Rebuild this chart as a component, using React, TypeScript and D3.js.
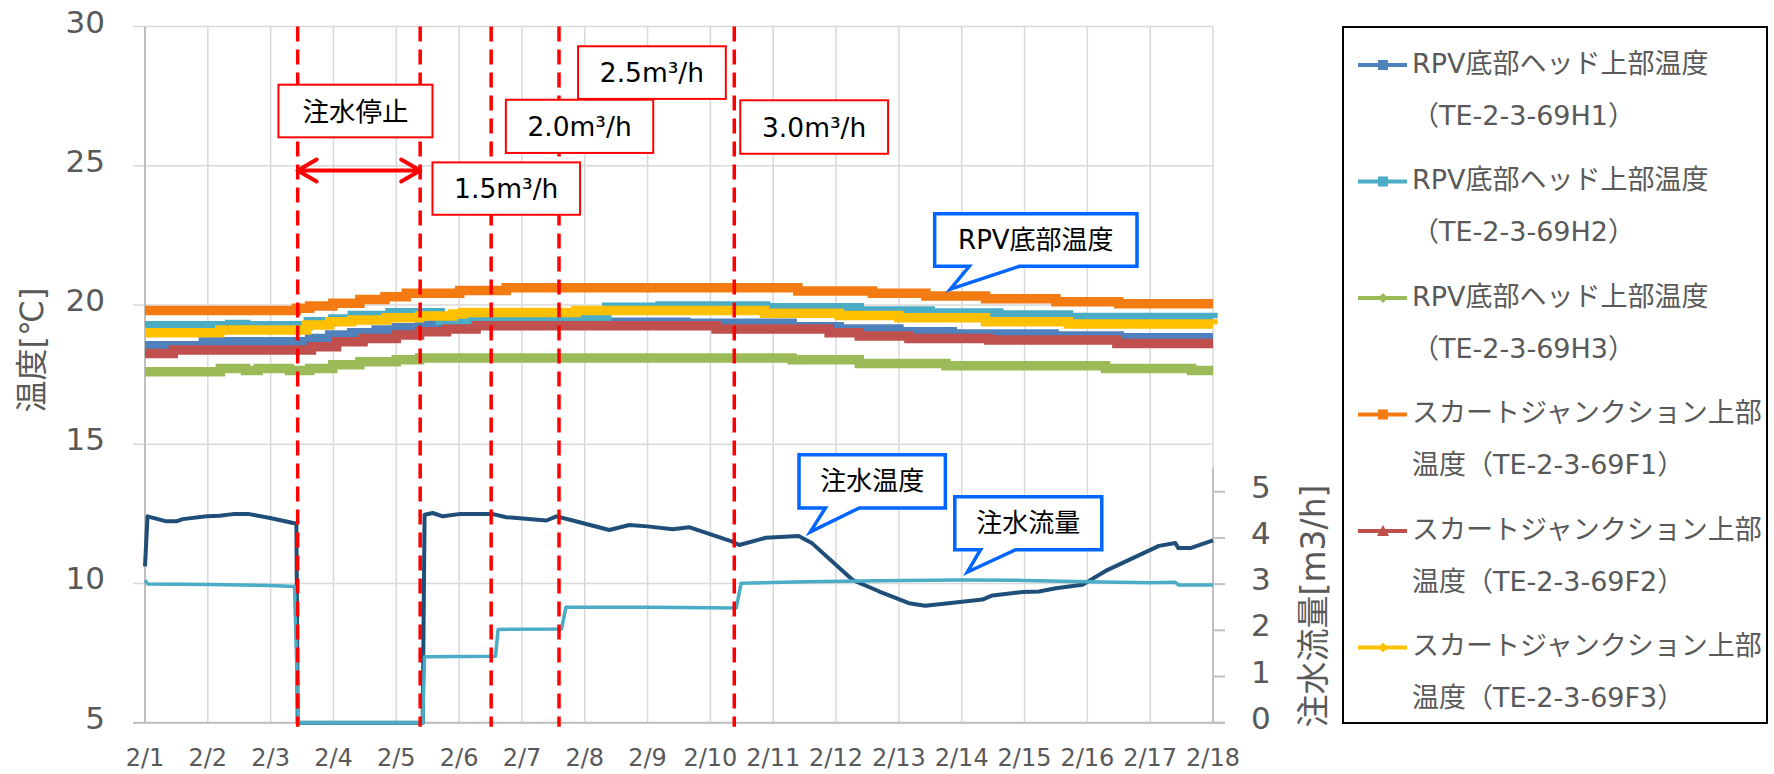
import * as d3 from 'd3'

type P = [number, number]

// x axis: days from 2/1 00:00
const dayLabels = ['2/1', '2/2', '2/3', '2/4', '2/5', '2/6', '2/7', '2/8', '2/9', '2/10', '2/11', '2/12', '2/13', '2/14', '2/15', '2/16', '2/17', '2/18']
const tempTicks = [5, 10, 15, 20, 25, 30]
const flowTicks = [0, 1, 2, 3, 4, 5]

// temperature series, [day, °C] change points (stepped, 0.1°C resolution)
const h1: P[] = [[0, 18.54], [0.93, 18.68], [2.62, 18.8], [2.94, 18.92], [3.29, 19.0], [3.68, 19.1], [4.0, 19.18], [4.37, 19.26], [4.58, 19.32], [5.27, 19.38], [8.61, 19.34], [10.3, 19.22], [11.05, 19.14], [12.0, 19.04], [12.85, 18.96], [14.47, 18.89], [15.51, 18.82], [17, 18.82]]
const h2: P[] = [[0, 19.25], [1.35, 19.3], [1.6, 19.25], [2.6, 19.4], [2.99, 19.5], [3.3, 19.62], [3.9, 19.72], [4.7, 19.45], [6.6, 19.5], [7.35, 19.92], [8.2, 19.96], [9.88, 19.9], [11.37, 19.78], [12.5, 19.71], [13.59, 19.64], [14.7, 19.55], [17, 19.52]]
const h3: P[] = [[0, 17.6], [1.2, 17.72], [1.6, 17.65], [1.8, 17.72], [2.3, 17.65], [2.62, 17.72], [2.99, 17.85], [3.42, 17.96], [4.0, 18.03], [4.37, 18.1], [10.3, 18.03], [11.37, 17.9], [12.75, 17.82], [15.29, 17.72], [16.66, 17.65], [17, 17.65]]
const f1: P[] = [[0, 19.8], [2.41, 19.88], [2.62, 19.96], [2.99, 20.06], [3.42, 20.2], [3.82, 20.3], [4.16, 20.42], [5.01, 20.52], [5.75, 20.62], [10.39, 20.5], [11.58, 20.42], [12.43, 20.32], [13.38, 20.22], [14.5, 20.12], [15.5, 20.04], [17, 20.04]]
const f2: P[] = [[0, 18.26], [0.45, 18.38], [2.65, 18.5], [3.05, 18.68], [3.47, 18.8], [4.0, 18.92], [4.37, 19.04], [4.8, 19.14], [5.27, 19.25], [9.09, 19.14], [10.89, 19.0], [11.37, 18.89], [12.16, 18.8], [13.43, 18.74], [15.47, 18.62], [17, 18.62]]
const f3: P[] = [[0, 19.0], [1.19, 19.1], [2.57, 19.28], [2.94, 19.4], [3.29, 19.46], [3.84, 19.54], [4.37, 19.6], [4.9, 19.68], [5.06, 19.73], [6.86, 19.8], [9.86, 19.7], [11.05, 19.62], [12.0, 19.54], [13.38, 19.4], [14.7, 19.32], [17, 19.3]]

// injection water temperature [°C]
const injTemp: P[] = [[0, 10.61], [0.04, 12.41], [0.34, 12.23], [0.5, 12.23], [0.6, 12.31], [0.98, 12.41], [1.19, 12.43], [1.4, 12.49], [1.66, 12.49], [1.99, 12.35], [2.36, 12.17], [2.41, 12.15], [2.43, 5], [4.42, 5], [4.45, 12.47], [4.58, 12.53], [4.74, 12.41], [5.0, 12.49], [5.54, 12.49], [5.75, 12.38], [6.39, 12.26], [6.55, 12.41], [6.81, 12.26], [7.39, 11.92], [7.71, 12.1], [8.0, 12.05], [8.4, 11.95], [8.66, 12.02], [9.35, 11.5], [9.46, 11.38], [9.88, 11.64], [10.41, 11.7], [10.47, 11.62], [10.62, 11.44], [11.26, 10.13], [11.69, 9.71], [12.16, 9.29], [12.42, 9.2], [12.9, 9.32], [13.33, 9.42], [13.49, 9.57], [13.97, 9.69], [14.23, 9.71], [14.5, 9.83], [14.92, 9.95], [15.29, 10.45], [16.14, 11.35], [16.4, 11.45], [16.45, 11.27], [16.64, 11.27], [17, 11.55]]

// injection flow [m3/h]
const injFlow: P[] = [[0, 3.08], [0.05, 3.0], [1, 2.99], [2, 2.97], [2.38, 2.95], [2.44, 0], [4.42, 0], [4.45, 1.43], [5.58, 1.44], [5.62, 2.02], [6.63, 2.03], [6.7, 2.5], [8, 2.5], [9.41, 2.48], [9.49, 3.02], [10.5, 3.05], [12, 3.08], [13, 3.09], [14, 3.08], [15, 3.05], [16, 3.03], [16.4, 3.04], [16.45, 2.98], [17, 2.98]]

const eventDays = [2.43, 4.38, 5.51, 6.59, 9.38]

const legendLine1 = ['RPV底部ヘッド上部温度', 'RPV底部ヘッド上部温度', 'RPV底部ヘッド上部温度', 'スカートジャンクション上部', 'スカートジャンクション上部', 'スカートジャンクション上部']
const legendLine2 = ['（TE-2-3-69H1）', '（TE-2-3-69H2）', '（TE-2-3-69H3）', '温度（TE-2-3-69F1）', '温度（TE-2-3-69F2）', '温度（TE-2-3-69F3）']

// red note boxes: [day0, day1, tempTop, tempBottom]
const notes: { text: string; box: [number, number, number, number] }[] = [
  { text: '注水停止', box: [2.124, 4.576, 27.91, 26.02] },
  { text: '1.5m³/h', box: [4.576, 6.925, 25.12, 23.24] },
  { text: '2.0m³/h', box: [5.744, 8.09, 27.37, 25.46] },
  { text: '2.5m³/h', box: [6.893, 9.245, 29.29, 27.4] },
  { text: '3.0m³/h', box: [9.475, 11.828, 27.35, 25.43] },
]

// blue callouts: box [day0, day1, tempTop, tempBottom], tail base days, tip [day, temp]
const callouts: { text: string; box: [number, number, number, number]; base: [number, number]; tip: P }[] = [
  { text: 'RPV底部温度', box: [12.57, 15.79, 23.28, 21.39], base: [13.12, 13.92], tip: [12.82, 20.57] },
  { text: '注水温度', box: [10.41, 12.74, 14.62, 12.71], base: [10.83, 11.37], tip: [10.59, 11.85] },
  { text: '注水流量', box: [12.89, 15.23, 13.11, 11.21], base: [13.3, 13.86], tip: [13.09, 10.41] },
]

const series = [
  { data: h1, color: '#4F81BD', marker: 'square' },
  { data: h2, color: '#4BACC6', marker: 'square' },
  { data: h3, color: '#9BBB59', marker: 'diamond' },
  { data: f1, color: '#F47A12', marker: 'square' },
  { data: f2, color: '#C0504D', marker: 'triangle' },
  { data: f3, color: '#FFC000', marker: 'diamond' },
]

const numFont = "'DejaVu Sans', 'Noto Sans CJK JP', sans-serif"
const gray = '#595959'

export default function App() {
  const x = d3.scaleLinear().domain([0, 17]).range([145, 1213])
  const y = d3.scaleLinear().domain([5, 30]).range([722.7, 26.5])
  const y2 = d3.scaleLinear().domain([0, 5.5]).range([722.7, 468.6])

  const stepLine = d3.line<P>().x((d) => x(d[0])).y((d) => y(d[1])).curve(d3.curveStepAfter)
  const tempLine = d3.line<P>().x((d) => x(d[0])).y((d) => y(d[1]))
  const flowLine = d3.line<P>().x((d) => x(d[0])).y((d) => y2(d[1]))

  const [x0, x1] = x.range()
  const yTop = y(30)
  const yBot = y(5)

  const arrowY = y(24.83)
  const ax0 = x(eventDays[0])
  const ax1 = x(eventDays[1])

  const marker = (kind: string, cx: number, cy: number, color: string) => {
    if (kind === 'square') return <rect x={cx - 5} y={cy - 5} width={10} height={10} fill={color} />
    if (kind === 'triangle') return <path d={`M${cx},${cy - 6} L${cx + 6},${cy + 5} L${cx - 6},${cy + 5} Z`} fill={color} />
    return <path d={`M${cx},${cy - 5} L${cx + 5},${cy} L${cx},${cy + 5} L${cx - 5},${cy} Z`} fill={color} />
  }

  return (
    <svg width={1774} height={774} style={{ position: 'absolute', left: 0, top: 0, background: '#fff' }}>
      <rect width={1774} height={774} fill="#fff" />

      {/* grid */}
      {dayLabels.map((_, i) => (
        <line key={'vg' + i} x1={x(i)} x2={x(i)} y1={yTop} y2={yBot} stroke="#D9D9D9" strokeWidth={1.5} />
      ))}
      {tempTicks.map((t) => (
        <line key={'hg' + t} x1={x0 - 12} x2={x1} y1={y(t)} y2={y(t)} stroke="#D9D9D9" strokeWidth={1.5} />
      ))}
      {/* axes */}
      <line x1={x0} x2={x0} y1={yTop} y2={yBot} stroke="#BFBFBF" strokeWidth={2} />
      <line x1={x0 - 12} x2={x1 + 12} y1={yBot} y2={yBot} stroke="#BFBFBF" strokeWidth={2} />
      <line x1={x1} x2={x1} y1={y2(5.5)} y2={yBot} stroke="#BFBFBF" strokeWidth={2} />
      {flowTicks.map((t) => (
        <line key={'rt' + t} x1={x1} x2={x1 + 12} y1={y2(t)} y2={y2(t)} stroke="#BFBFBF" strokeWidth={2} />
      ))}

      {/* tick labels */}
      {tempTicks.map((t) => (
        <text key={'yl' + t} x={105} y={y(t) - 5} textAnchor="end" dominantBaseline="central" fontFamily={numFont} fontSize={31} fill={gray}>
          {t}
        </text>
      ))}
      {flowTicks.map((t) => (
        <text key={'y2l' + t} x={1251} y={y2(t) - 5} textAnchor="start" dominantBaseline="central" fontFamily={numFont} fontSize={31} fill={gray}>
          {t}
        </text>
      ))}
      {dayLabels.map((d, i) => (
        <text key={'xl' + i} x={x(i)} y={758} textAnchor="middle" dominantBaseline="central" fontFamily={numFont} fontSize={24} fill={gray}>
          {d}
        </text>
      ))}
      <text transform="translate(32,350) rotate(-90)" textAnchor="middle" dominantBaseline="central" fontFamily={numFont} fontSize={32} fill={gray}>
        温度[℃]
      </text>
      <text transform="translate(1313,606) rotate(-90)" textAnchor="middle" dominantBaseline="central" fontFamily={numFont} fontSize={33} fill={gray}>
        注水流量[m3/h]
      </text>

      {/* temperature series */}
      {series.map((s, i) => (
        <path key={'s' + i} d={stepLine(s.data) ?? ''} fill="none" stroke={s.color} strokeWidth={9.5} />
      ))}
      <path d={tempLine(injTemp) ?? ''} fill="none" stroke="#1F4E79" strokeWidth={4} strokeLinejoin="round" />
      <path d={flowLine(injFlow) ?? ''} fill="none" stroke="#4BACC6" strokeWidth={3.5} strokeLinejoin="round" />

      {/* event lines */}
      {eventDays.map((d, i) => (
        <line key={'ev' + i} x1={x(d)} x2={x(d)} y1={yTop} y2={yBot + 4} stroke="#FF0000" strokeWidth={3.5} strokeDasharray="15 8" />
      ))}
      <g stroke="#FF0000" strokeWidth={4} fill="none" strokeLinecap="round" strokeLinejoin="round">
        <line x1={ax0} x2={ax1} y1={arrowY} y2={arrowY} />
        <path d={`M${ax0 + 19},${arrowY - 11} L${ax0},${arrowY} L${ax0 + 19},${arrowY + 11}`} />
        <path d={`M${ax1 - 19},${arrowY - 11} L${ax1},${arrowY} L${ax1 - 19},${arrowY + 11}`} />
      </g>

      {/* red note boxes */}
      {notes.map((n, i) => {
        const bx0 = x(n.box[0]), bx1 = x(n.box[1]), by0 = y(n.box[2]), by1 = y(n.box[3])
        return (
          <g key={'n' + i}>
            <rect x={bx0} y={by0} width={bx1 - bx0} height={by1 - by0} fill="#fff" stroke="#FF0000" strokeWidth={2} />
            <text x={(bx0 + bx1) / 2} y={(by0 + by1) / 2} textAnchor="middle" dominantBaseline="central" fontFamily={numFont} fontSize={26.5} fill="#000">
              {n.text}
            </text>
          </g>
        )
      })}

      {/* blue callouts */}
      {callouts.map((c, i) => {
        const bx0 = x(c.box[0]), bx1 = x(c.box[1]), by0 = y(c.box[2]), by1 = y(c.box[3])
        const d = `M${bx0},${by0} H${bx1} V${by1} H${x(c.base[1])} L${x(c.tip[0])},${y(c.tip[1])} L${x(c.base[0])},${by1} H${bx0} Z`
        return (
          <g key={'c' + i}>
            <path d={d} fill="#fff" stroke="#0066FF" strokeWidth={3.5} strokeLinejoin="miter" />
            <text x={(bx0 + bx1) / 2} y={(by0 + by1) / 2} textAnchor="middle" dominantBaseline="central" fontFamily={numFont} fontSize={26} fill="#000">
              {c.text}
            </text>
          </g>
        )
      })}

      {/* legend */}
      <rect x={1343} y={27} width={424} height={696} fill="#fff" stroke="#000" strokeWidth={2} />
      {series.map((s, i) => {
        const ly = 65 + i * 116.5
        return (
          <g key={'lg' + i}>
            <line x1={1358} x2={1407} y1={ly} y2={ly} stroke={s.color} strokeWidth={4} />
            {marker(s.marker, 1383, ly, s.color)}
            <text x={1412} y={ly - 2} dominantBaseline="central" fontFamily={numFont} fontSize={27} fill={gray}>
              {legendLine1[i]}
            </text>
            <text x={1412} y={ly + 50} dominantBaseline="central" fontFamily={numFont} fontSize={27} fill={gray}>
              {legendLine2[i]}
            </text>
          </g>
        )
      })}
    </svg>
  )
}
